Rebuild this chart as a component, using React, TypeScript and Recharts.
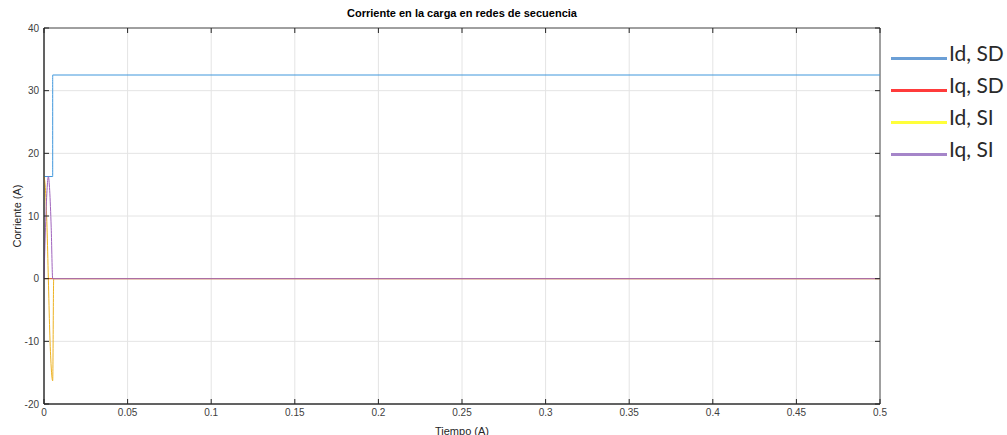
import React from "react";
import {
  LineChart,
  Line,
  CartesianGrid,
  XAxis,
  YAxis,
  ReferenceArea,
} from "recharts";

// tiempo (s) y corriente (A) de cada secuencia
const idSdT = [0, 0.0052, 0.0052, 0.5];
const idSdV = [16.3, 16.3, 32.5, 32.5];

const iqSdT = [0, 0.5];
const iqSdV = [0, 0];

const idSiT = [0, 0.0009, 0.0018, 0.0026, 0.0034, 0.0043, 0.0052, 0.0058, 0.5];
const idSiV = [16.3, 14.1, 8.2, 0, -8.2, -14.1, -16.3, 0, 0];

const iqSiT = [0, 0.0009, 0.0018, 0.0026, 0.0034, 0.0043, 0.0052, 0.5];
const iqSiV = [0, 8.2, 14.1, 16.3, 14.1, 8.2, 0, 0];

const xTicks = [0, 0.05, 0.1, 0.15, 0.2, 0.25, 0.3, 0.35, 0.4, 0.45, 0.5];
const yTicks = [-20, -10, 0, 10, 20, 30, 40];

const W = 1007;
const H = 435;
const MARGIN = { top: 28, right: 127, bottom: 0, left: 0 };
const Y_W = 44;
const X_H = 31;
const PLOT_W = W - MARGIN.right - Y_W;
const PLOT_H = H - MARGIN.top - X_H;

const AXIS = "#262626";
const FONT = "'Liberation Sans', Arial, sans-serif";

const toRows = (t: number[], v: number[]) => t.map((tt, i) => ({ t: tt, v: v[i] }));

const series = [
  { name: "Id, SD", data: toRows(idSdT, idSdV), stroke: "#3f97dc", legend: "#6b9fd6" },
  { name: "Iq, SD", data: toRows(iqSdT, iqSdV), stroke: "#D95319", legend: "#ff3b3b" },
  { name: "Id, SI", data: toRows(idSiT, idSiV), stroke: "#EDB120", legend: "#ffff3a" },
  { name: "Iq, SI", data: toRows(iqSiT, iqSiV), stroke: "#a064bd", legend: "#a585c9" },
];

// ticks hacia dentro, también en los bordes superior y derecho
const XTick = (props: any) => {
  const { x, y, payload } = props;
  const top = y - PLOT_H;
  return (
    <g>
      <line x1={x} x2={x} y1={y} y2={y - 5} stroke={AXIS} />
      <line x1={x} x2={x} y1={top} y2={top + 5} stroke={AXIS} />
      <text x={x} y={y + 12} textAnchor="middle" fontSize={10} fontFamily={FONT} fill="#404040">
        {payload.value}
      </text>
    </g>
  );
};

const YTick = (props: any) => {
  const { x, y, payload } = props;
  const right = x + PLOT_W;
  return (
    <g>
      <line x1={x} x2={x + 5} y1={y} y2={y} stroke={AXIS} />
      <line x1={right - 5} x2={right} y1={y} y2={y} stroke={AXIS} />
      <text x={x - 5} y={y + 3.5} textAnchor="end" fontSize={10} fontFamily={FONT} fill="#404040">
        {payload.value}
      </text>
    </g>
  );
};

export default function App() {
  return (
    <div style={{ position: "absolute", left: 0, top: 0, width: W, height: H, background: "#fff" }}>
      <div
        style={{
          position: "absolute",
          left: MARGIN.left + Y_W,
          width: PLOT_W,
          top: 7,
          textAlign: "center",
          fontFamily: FONT,
          fontWeight: "bold",
          fontSize: 11,
          color: "#000",
        }}
      >
        Corriente en la carga en redes de secuencia
      </div>
      <LineChart width={W} height={H} margin={MARGIN}>
        <CartesianGrid stroke="#e4e4e4" />
        <XAxis
          dataKey="t"
          type="number"
          domain={[0, 0.5]}
          ticks={xTicks}
          height={X_H}
          tickSize={0}
          tickMargin={0}
          tickLine={false}
          interval={0}
          axisLine={{ stroke: AXIS }}
          tick={<XTick />}
          allowDuplicatedCategory={false}
          label={{
            value: "Tiempo (A)",
            position: "insideBottom",
            offset: 0,
            style: { fontFamily: FONT, fontSize: 11, fill: "#262626" },
          }}
        />
        <YAxis
          type="number"
          domain={[-20, 40]}
          ticks={yTicks}
          width={Y_W}
          tickSize={0}
          tickMargin={0}
          tickLine={false}
          interval={0}
          axisLine={{ stroke: AXIS }}
          tick={<YTick />}
          label={{
            value: "Corriente (A)",
            angle: -90,
            position: "insideLeft",
            offset: 17,
            style: { textAnchor: "middle", fontFamily: FONT, fontSize: 11, fill: "#262626" },
          }}
        />
        <ReferenceArea x1={0} x2={0.5} y1={-20} y2={40} fill="none" stroke={AXIS} strokeOpacity={0.8} />
        {series.map((s) => (
          <Line
            key={s.name}
            data={s.data}
            dataKey="v"
            type="monotone"
            stroke={s.stroke}
            strokeWidth={1}
            dot={false}
            isAnimationActive={false}
          />
        ))}
      </LineChart>
      <div style={{ position: "absolute", left: 891, top: 31 }}>
        {series.map((s) => (
          <div key={s.name} style={{ display: "flex", alignItems: "flex-end", height: 32 }}>
            <div style={{ width: 56, height: 3, background: s.legend, marginBottom: 3 }} />
            <span
              style={{
                marginLeft: 2,
                fontFamily: "Lato, 'Open Sans', sans-serif",
                fontSize: 21,
                lineHeight: "20px",
                color: "#2a2a2a",
              }}
            >
              {s.name}
            </span>
          </div>
        ))}
      </div>
    </div>
  );
}
